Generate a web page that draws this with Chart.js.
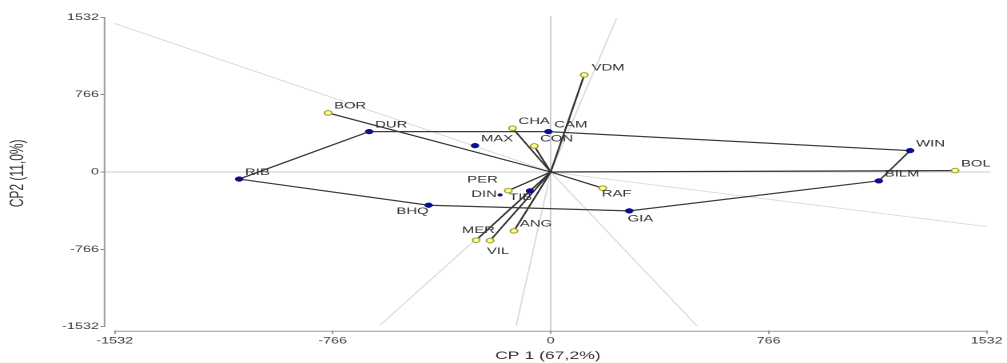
<!DOCTYPE html>
<html><head><meta charset="utf-8">
<script src="https://cdn.jsdelivr.net/npm/chart.js@4.4.1/dist/chart.umd.min.js"></script>
<style>
html,body{margin:0;padding:0;background:#fff;overflow:hidden;}
#wrap{width:630px;height:363px;transform:scaleX(1.5984);transform-origin:0 0;}
canvas{display:block}
</style></head><body>
<div id="wrap"><canvas id="c" width="630" height="363"></canvas></div>
<script>
// ---- data ----
const xTicks = [-1532, -766, 0, 766, 1532];
const yTicks = [-1532, -766, 0, 766, 1532];
const genotypeNames = ['CAM', 'MAX', 'DUR', 'RIB', 'TIB', 'DIN', 'BHQ', 'GIA', 'WIN', 'BILM'];
const genotypeX = [-8, -266, -638, -1095, -73, -178, -429, 276, 1263, 1153];
const genotypeY = [400, 261, 400, -70, -187, -227, -329, -385, 212, -88];
const environmentNames = ['VDM', 'CHA', 'CON', 'BOR', 'PER', 'RAF', 'ANG', 'MER', 'VIL', 'BOL'];
const environmentX = [118, -134, -58, -782, -149, 183, -129, -262, -213, 1421];
const environmentY = [962, 434, 258, 585, -184, -160, -583, -675, -679, 14];
const polygonOrder = ['RIB', 'DUR', 'CAM', 'WIN', 'BILM', 'GIA', 'BHQ', 'RIB'];
const rayEndX = [-1535, 232, 1532, 514, -600, -121];
const rayEndY = [1473, 1524, -541, -1524, -1519, -1519];
const xTitle = 'CP 1 (67,2%)';
const yTitle = 'CP2 (11,0%)';

// ---- label placement (style, not data) ----
const labelPlace = {
  _default: {dx: 3.7, dy: -6.8, align: 'left'},
  VDM: {dx: 4.6, dy: -6.8, align: 'left'},
  GIA: {dx: -1, dy: 8, align: 'left'},
  RAF: {dx: -0.6, dy: 5.8, align: 'left'},
  PER: {dx: -6.6, dy: -10.7, align: 'right'},
  DIN: {dx: -2, dy: -0.5, align: 'right'},
  TIB: {dx: -13, dy: 6.3, align: 'left'},
  BHQ: {dx: 0, dy: 6.4, align: 'right'},
  MER: {dx: -8.9, dy: -9.6, align: 'left'},
  VIL: {dx: -2, dy: 11, align: 'left'}
};

const genoPts = genotypeNames.map((n, i) => ({x: genotypeX[i], y: genotypeY[i], name: n}));
const envPts = environmentNames.map((n, i) => ({x: environmentX[i], y: environmentY[i], name: n}));
const genoByName = {};
genoPts.forEach(p => genoByName[p.name] = p);
const polyPts = polygonOrder.map(n => ({x: genoByName[n].x, y: genoByName[n].y}));

const datasets = [];
datasets.push({
  label: 'genotypes', data: genoPts, showLine: false, order: 0,
  pointRadius: c => (c.raw && c.raw.name === 'DIN') ? 1.4 : 2.4,
  pointBackgroundColor: '#0c0c8e', pointBorderColor: '#0c0c8e', pointBorderWidth: 0.5
});
datasets.push({
  label: 'environments', data: envPts, showLine: false, order: 0,
  pointRadius: 2.3, pointBackgroundColor: '#ffff8c', pointBorderColor: '#9c9c3c', pointBorderWidth: 1
});
datasets.push({
  label: 'polygon', data: polyPts, showLine: true, order: 1, pointRadius: 0,
  borderColor: '#3c3c3c', borderWidth: 1.2, fill: false, tension: 0
});
envPts.forEach(p => datasets.push({
  label: 'vec ' + p.name, data: [{x: 0, y: 0}, {x: p.x, y: p.y}], showLine: true, order: 2,
  pointRadius: 0, borderColor: '#333333', borderWidth: 1.2
}));
rayEndX.forEach((ex, i) => datasets.push({
  label: 'ray ' + i, data: [{x: 0, y: 0}, {x: ex, y: rayEndY[i]}], showLine: true, order: 3,
  pointRadius: 0, borderColor: '#d6d6d6', borderWidth: 0.8
}));

const labelFont = "9.3px 'Liberation Sans', Arial, sans-serif";
const pointLabels = {
  id: 'pointLabels',
  afterDatasetsDraw(chart) {
    const {ctx, scales: {x, y}} = chart;
    ctx.save();
    ctx.font = labelFont;
    ctx.fillStyle = '#303030';
    ctx.textBaseline = 'middle';
    genoPts.concat(envPts).forEach(p => {
      const pl = labelPlace[p.name] || labelPlace._default;
      ctx.textAlign = pl.align;
      ctx.fillText(p.name, x.getPixelForValue(p.x) + pl.dx, y.getPixelForValue(p.y) + pl.dy);
    });
    ctx.restore();
  }
};
const axisLines = {
  id: 'axisLines',
  afterDraw(chart) {
    const {ctx, scales: {x, y}, chartArea} = chart;
    ctx.save();
    ctx.strokeStyle = '#9a9a9a';
    ctx.lineWidth = 1;
    ctx.beginPath();
    ctx.moveTo(x.getPixelForValue(xTicks[0]), chartArea.bottom + 0.5);
    ctx.lineTo(x.getPixelForValue(xTicks[xTicks.length - 1]), chartArea.bottom + 0.5);
    ctx.moveTo(chartArea.left - 0.5, y.getPixelForValue(yTicks[0]));
    ctx.lineTo(chartArea.left - 0.5, y.getPixelForValue(yTicks[yTicks.length - 1]));
    ctx.stroke();
    ctx.restore();
  }
};

const tickFont = {family: "'Liberation Sans', Arial, sans-serif", size: 9};
const zeroGrid = c => (c.tick && c.tick.value === 0) ? '#cdcdcd' : 'rgba(0,0,0,0)';

new Chart(document.getElementById('c'), {
  type: 'scatter',
  data: {datasets},
  plugins: [pointLabels, axisLines],
  options: {
    responsive: false, animation: false, devicePixelRatio: 2,
    layout: {padding: {top: 16, right: 10.4, left: 0, bottom: 0}},
    plugins: {legend: {display: false}, tooltip: {enabled: false}},
    scales: {
      x: {
        type: 'linear', min: -1565, max: 1545,
        afterBuildTicks: s => { s.ticks = xTicks.map(v => ({value: v})); },
        afterFit: s => { s.height = 32.3; },
        ticks: {callback: v => String(v), font: tickFont, color: '#3a3a3a', padding: 2, maxRotation: 0, autoSkip: false},
        grid: {color: zeroGrid, lineWidth: 1, drawTicks: true, tickLength: 3, tickColor: '#8a8a8a', tickWidth: 1},
        border: {display: false},
        title: {display: true, text: xTitle, color: '#333', font: {family: "'Liberation Sans', Arial, sans-serif", size: 11}, padding: {top: 0, bottom: 0.5}}
      },
      y: {
        type: 'linear', min: -1571.6, max: 1545,
        afterBuildTicks: s => { s.ticks = yTicks.map(v => ({value: v})); },
        afterFit: s => { s.width = 65.9; },
        ticks: {callback: v => String(v), font: tickFont, color: '#3a3a3a', padding: 1, autoSkip: false},
        grid: {color: zeroGrid, lineWidth: 1, drawTicks: true, tickLength: 3, tickColor: '#8a8a8a', tickWidth: 1},
        border: {display: false},
        title: {display: true, text: yTitle, color: '#333', font: {family: "'Liberation Sans', Arial, sans-serif", size: 12}, padding: {top: 4.2, bottom: 0}}
      }
    }
  }
});
</script>
</body></html>
